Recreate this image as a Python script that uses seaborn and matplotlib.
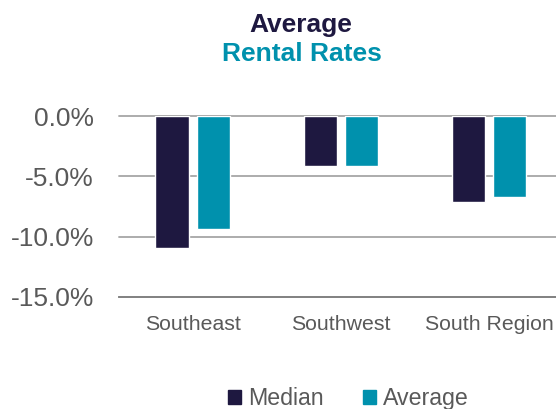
import seaborn as sns
import pandas as pd
import matplotlib.pyplot as plt
from matplotlib.ticker import FuncFormatter

regions = ['Southeast', 'Southwest', 'South Region']
median = [-10.9, -4.1, -7.1]
average = [-9.4, -4.1, -6.7]
yticks = [0, -5, -10, -15]

navy = '#1E1840'
teal = '#0091AD'
grey = '#595959'

df = pd.DataFrame({
    'region': regions * 2,
    'series': ['Median'] * 3 + ['Average'] * 3,
    'value': median + average,
})

sns.set_style('white')
plt.rcParams['font.family'] = ['Liberation Sans', 'DejaVu Sans']

fig = plt.figure(figsize=(5.56, 4.09), dpi=100)
# axes runs a little past the right edge, like the original
ax = fig.add_axes([0.214, 0.274, 0.7986, 0.442])

sns.barplot(data=df, x='region', y='value', hue='series',
            palette=[navy, teal], width=0.566, gap=0.21, ax=ax,
            saturation=1, legend=False)

ax.set_ylim(-15, 0)
ax.set_yticks(yticks)
ax.yaxis.set_major_formatter(FuncFormatter(lambda v, p: '{:.1f}%'.format(v).replace('-0.0', '0.0')))
ax.grid(axis='y', color='#A6A6A6', linewidth=1.3)
ax.set_axisbelow(True)
for g in ax.get_ygridlines():
    g.set_clip_on(False)
for s in ['top', 'right', 'left']:
    ax.spines[s].set_visible(False)
ax.spines['bottom'].set_color('#7F7F7F')
ax.spines['bottom'].set_linewidth(1.3)
ax.tick_params(axis='y', length=0, pad=18, labelsize=19, labelcolor=grey)
ax.tick_params(axis='x', length=0, pad=13, labelsize=15.3, labelcolor=grey)
ax.set_xlabel('')
ax.set_ylabel('')

fig.text(0.541, 0.939, 'Average', ha='center', va='center', fontsize=19,
         fontweight='bold', color=navy)
fig.text(0.543, 0.867, 'Rental Rates', ha='center', va='center', fontsize=19,
         fontweight='bold', color=teal)

handles = [plt.Rectangle((0, 0), 1, 1, color=navy), plt.Rectangle((0, 0), 1, 1, color=teal)]
fig.legend(handles, ['Median', 'Average'], loc='center', bbox_to_anchor=(0.627, 0.025),
           ncol=2, frameon=False, fontsize=16.7, labelcolor=grey,
           handlelength=0.57, handleheight=0.57, handletextpad=0.3, columnspacing=1.7)

fig.savefig('out.png', dpi=100)
